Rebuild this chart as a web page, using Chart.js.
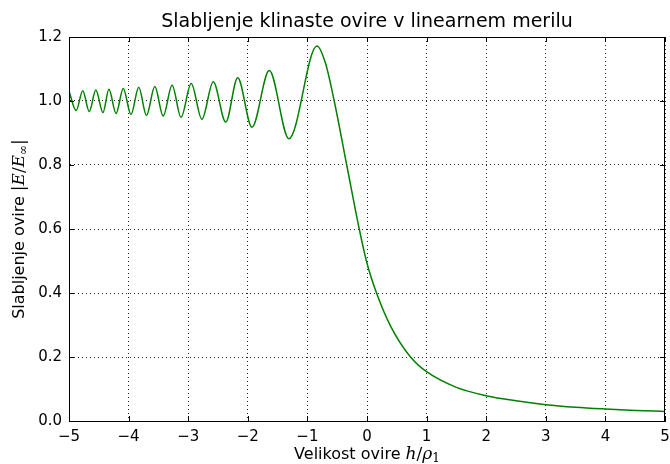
<!DOCTYPE html>
<html>
<head>
<meta charset="utf-8">
<script src="https://cdn.jsdelivr.net/npm/chart.js@4"></script>
<style>
  html, body { margin: 0; padding: 0; background: #fff; }
  canvas { display: block; }
</style>
</head>
<body>
<canvas id="kChart" width="670" height="464"></canvas>
<script>
// values
const hValues = [-5.00, -4.88, -4.77, -4.66, -4.55, -4.43, -4.33, -4.21, -4.09, -3.96,
  -3.83, -3.70, -3.56, -3.42, -3.27, -3.12, -2.95, -2.77, -2.58, -2.37,
  -2.17, -1.93, -1.64, -1.31, -0.84, -0.70, -0.55, -0.34, -0.13, 0.00,
  0.16, 0.40, 0.73, 1.00, 1.50, 2.00, 2.50, 3.00, 3.50, 4.00, 4.50, 5.00];
const attenuation = [1.031, 0.970, 1.032, 0.967, 1.034, 0.964, 1.037, 0.961, 1.039, 0.958,
  1.043, 0.955, 1.045, 0.953, 1.049, 0.949, 1.055, 0.943, 1.060, 0.934,
  1.073, 0.918, 1.095, 0.882, 1.172, 1.12, 1.0, 0.8, 0.6, 0.493,
  0.4, 0.295, 0.2, 0.154, 0.105, 0.079, 0.063, 0.051, 0.043, 0.0375, 0.033, 0.030];
const xTicks = [-5, -4, -3, -2, -1, 0, 1, 2, 3, 4, 5];
const yTicks = [0.0, 0.2, 0.4, 0.6, 0.8, 1.0, 1.2];

const chartTitle = 'Slabljenje klinaste ovire v linearnem merilu';

const points = hValues.map((h, i) => ({ x: h, y: attenuation[i] }));

// draws a label made of pieces with different fonts
function drawPieces(ctx, pieces, cx, cy) {
    let total = 0;
    pieces.forEach(p => { ctx.font = p.font; total += ctx.measureText(p.t).width; });
    let x = cx - total / 2;
    pieces.forEach(p => {
        ctx.font = p.font;
        ctx.fillText(p.t, x, cy + (p.dy || 0));
        x += ctx.measureText(p.t).width;
    });
}

const decorations = {
    id: 'decorations',
    afterDraw(chart) {
        const ctx = chart.ctx;
        const a = chart.chartArea;
        const xs = chart.scales.x, ys = chart.scales.y;
        ctx.save();
        // frame
        ctx.strokeStyle = '#000';
        ctx.lineWidth = 1;
        ctx.strokeRect(Math.round(a.left) + 0.5, Math.round(a.top) + 0.5,
            Math.round(a.right - a.left) - 1, Math.round(a.bottom - a.top));
        // inward ticks on all sides
        ctx.beginPath();
        xTicks.forEach(v => {
            const px = Math.round(xs.getPixelForValue(v)) + 0.5;
            ctx.moveTo(px, a.bottom); ctx.lineTo(px, a.bottom - 5);
            ctx.moveTo(px, a.top); ctx.lineTo(px, a.top + 5);
        });
        yTicks.forEach(v => {
            const py = Math.round(ys.getPixelForValue(v)) + 0.5;
            ctx.moveTo(a.left, py); ctx.lineTo(a.left + 5, py);
            ctx.moveTo(a.right, py); ctx.lineTo(a.right - 5, py);
        });
        ctx.stroke();

        ctx.fillStyle = '#000';
        ctx.textBaseline = 'middle';
        ctx.textAlign = 'left';
        // title
        drawPieces(ctx, [{ t: chartTitle, font: '19px "DejaVu Sans"' }], (a.left + a.right) / 2, 22);
        // x axis label
        drawPieces(ctx, [
            { t: 'Velikost ovire ', font: '16px "DejaVu Sans"' },
            { t: 'h', font: 'italic 17px "DejaVu Serif"' },
            { t: '/', font: '17px "DejaVu Serif"' },
            { t: 'ρ', font: 'italic 17px "DejaVu Serif"' },
            { t: '1', font: '12px "DejaVu Serif"', dy: 4 }
        ], (a.left + a.right) / 2, 455);
        // y axis label
        ctx.translate(20, (a.top + a.bottom) / 2);
        ctx.rotate(-Math.PI / 2);
        drawPieces(ctx, [
            { t: 'Slabljenje ovire ', font: '16px "DejaVu Sans"' },
            { t: '|', font: '17px "DejaVu Serif"' },
            { t: 'E', font: 'italic 17px "DejaVu Serif"' },
            { t: '/', font: '17px "DejaVu Serif"' },
            { t: 'E', font: 'italic 17px "DejaVu Serif"' },
            { t: '∞', font: '12px "DejaVu Serif"', dy: 4 },
            { t: '|', font: '17px "DejaVu Serif"' }
        ], 0, 0);
        ctx.restore();
    }
};

new Chart(document.getElementById('kChart'), {
    type: 'line',
    data: {
        datasets: [{
            data: points,
            borderColor: '#008000',
            borderWidth: 1.5,
            pointRadius: 0,
            cubicInterpolationMode: 'monotone',
            fill: false
        }]
    },
    options: {
        responsive: false,
        animation: false,
        layout: { padding: { top: 37, right: 5, left: 0, bottom: 0 } },
        plugins: {
            legend: { display: false },
            tooltip: { enabled: false }
        },
        scales: {
            x: {
                type: 'linear',
                min: -5, max: 5,
                afterFit(s) { s.height = 43; s.paddingLeft = 0; s.paddingRight = 0; },
                afterBuildTicks(s) { s.ticks = xTicks.map(v => ({ value: v })); },
                grid: { color: 'rgba(0,0,0,0.85)', lineWidth: 1, drawTicks: false },
                border: { display: true, color: '#000', dash: [1, 3] },
                ticks: {
                    padding: 7,
                    color: '#000',
                    font: { family: 'DejaVu Sans', size: 15 },
                    callback: v => String(v).replace('-', '\u2212')
                }
            },
            y: {
                min: 0, max: 1.2,
                afterFit(s) { s.width = 69; s.paddingTop = 0; s.paddingBottom = 0; },
                afterBuildTicks(s) { s.ticks = yTicks.map(v => ({ value: v })); },
                grid: { color: 'rgba(0,0,0,0.85)', lineWidth: 1, drawTicks: false },
                border: { display: true, color: '#000', dash: [1, 3] },
                ticks: {
                    padding: 7,
                    color: '#000',
                    font: { family: 'DejaVu Sans', size: 15 },
                    callback: v => Number(v).toFixed(1)
                }
            }
        }
    },
    plugins: [decorations]
});
</script>
</body>
</html>
